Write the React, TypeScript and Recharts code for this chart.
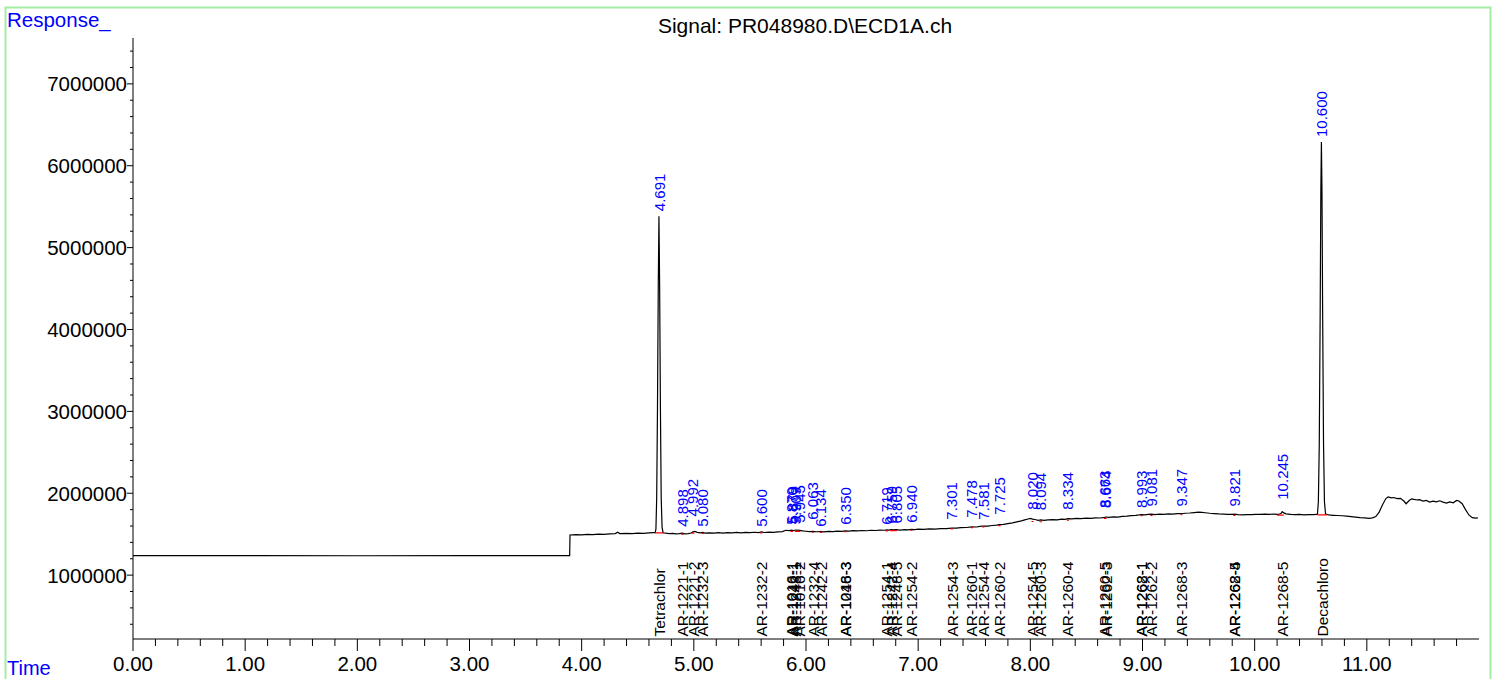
import React from 'react';
import { ComposedChart, Line, Scatter, XAxis, YAxis } from 'recharts';

const FONT = '"Liberation Sans", Arial, Helvetica, sans-serif';

const TITLE = 'Signal: PR048980.D\\ECD1A.ch';
const Y_TITLE = 'Response_';
const X_TITLE = 'Time';

// axis ranges / ticks
const X_DOMAIN: [number, number] = [0, 12];
const X_MAJOR_TICKS = [0, 1, 2, 3, 4, 5, 6, 7, 8, 9, 10, 11];
const X_MINOR_PER_MAJOR = 5;
const Y_DOMAIN: [number, number] = [220000, 7560000];
const Y_MAJOR_TICKS = [1000000, 2000000, 3000000, 4000000, 5000000, 6000000, 7000000];
const Y_MINOR_FIRST = 400000;
const Y_MINOR_LAST = 7400000;
const Y_MINOR_STEP = 200000;

// signal trace [time(min), response]
const preStep: [number, number][] = [
  [0, 1238000], [1.0, 1238000], [2.0, 1237000], [3.0, 1238000], [3.893, 1238000],
];
const earlyBaseline: [number, number][] = [
  [3.896, 1490000], [3.95, 1495000], [4.0, 1492000], [4.05, 1498000], [4.1, 1495000],
  [4.15, 1502000], [4.2, 1499000], [4.25, 1505000], [4.3, 1508000], [4.32, 1524000],
  [4.34, 1508000], [4.4, 1511000], [4.45, 1506000], [4.5, 1512000], [4.55, 1509000],
  [4.6, 1515000], [4.64, 1519000], [4.655, 1520000],
];
const tetrachlorPeak: [number, number][] = [
  [4.662, 1560000], [4.669, 1950000], [4.676, 3050000], [4.683, 4550000], [4.689, 5384000],
  [4.695, 4550000], [4.702, 3050000], [4.709, 1950000], [4.717, 1580000], [4.726, 1518000],
];
const midBaseline: [number, number][] = [
  [4.75, 1512000], [4.78, 1508000], [4.81, 1510000], [4.84, 1504000], [4.87, 1506000],
  [4.898, 1512000], [4.92, 1505000], [4.95, 1508000], [4.975, 1514000], [4.992, 1528000],
  [5.01, 1533000], [5.03, 1522000], [5.06, 1516000], [5.08, 1521000], [5.1, 1514000],
  [5.14, 1517000], [5.18, 1512000], [5.22, 1518000], [5.26, 1514000], [5.3, 1520000],
  [5.34, 1516000], [5.38, 1521000], [5.42, 1517000], [5.46, 1523000], [5.5, 1519000],
  [5.54, 1524000], [5.58, 1520000], [5.6, 1527000], [5.63, 1521000], [5.67, 1526000],
  [5.71, 1522000], [5.75, 1528000], [5.79, 1531000], [5.82, 1548000], [5.85, 1544000],
  [5.87, 1550000], [5.89, 1545000], [5.91, 1551000], [5.945, 1546000], [5.97, 1540000],
  [6.0, 1536000], [6.03, 1532000], [6.063, 1534000], [6.09, 1530000], [6.134, 1532000],
  [6.16, 1529000], [6.2, 1535000], [6.24, 1532000], [6.28, 1538000], [6.32, 1535000],
  [6.35, 1540000], [6.38, 1537000], [6.42, 1543000], [6.46, 1540000], [6.5, 1545000],
  [6.54, 1542000], [6.58, 1548000], [6.62, 1545000], [6.66, 1550000], [6.7, 1548000],
  [6.719, 1553000], [6.74, 1549000], [6.759, 1557000], [6.78, 1552000], [6.805, 1556000],
  [6.84, 1549000], [6.88, 1555000], [6.91, 1552000], [6.94, 1559000], [6.97, 1556000],
  [7.0, 1561000], [7.05, 1558000], [7.1, 1565000], [7.15, 1562000], [7.2, 1569000],
  [7.25, 1567000], [7.301, 1575000], [7.34, 1573000], [7.38, 1580000], [7.43, 1582000],
  [7.478, 1590000], [7.52, 1588000], [7.55, 1595000], [7.581, 1600000], [7.62, 1598000],
  [7.66, 1606000], [7.7, 1610000], [7.725, 1617000], [7.76, 1620000], [7.8, 1630000],
  [7.84, 1638000], [7.88, 1650000], [7.92, 1662000], [7.95, 1674000], [7.98, 1686000],
  [8.0, 1692000], [8.02, 1684000], [8.05, 1676000], [8.07, 1670000], [8.094, 1674000],
  [8.12, 1668000], [8.16, 1675000], [8.2, 1679000], [8.24, 1676000], [8.28, 1684000],
  [8.31, 1681000], [8.334, 1690000], [8.37, 1686000], [8.41, 1692000], [8.45, 1689000],
  [8.5, 1697000], [8.54, 1694000], [8.58, 1700000], [8.62, 1698000], [8.663, 1706000],
  [8.674, 1710000], [8.7, 1706000], [8.74, 1712000], [8.78, 1709000], [8.82, 1717000],
  [8.86, 1721000], [8.9, 1727000], [8.94, 1731000], [8.97, 1735000], [8.993, 1740000],
  [9.02, 1737000], [9.05, 1741000], [9.081, 1744000], [9.11, 1740000], [9.15, 1746000],
  [9.19, 1743000], [9.23, 1749000], [9.27, 1746000], [9.31, 1752000], [9.347, 1750000],
  [9.38, 1756000], [9.42, 1759000], [9.46, 1764000], [9.5, 1769000], [9.53, 1766000],
  [9.56, 1762000], [9.6, 1756000], [9.64, 1752000], [9.68, 1748000], [9.72, 1746000],
  [9.76, 1743000], [9.8, 1741000], [9.821, 1744000], [9.85, 1739000], [9.89, 1737000],
  [9.93, 1740000], [9.97, 1738000], [10.01, 1743000], [10.05, 1741000], [10.09, 1746000],
  [10.13, 1743000], [10.17, 1745000], [10.21, 1741000], [10.235, 1752000], [10.245, 1775000],
  [10.26, 1760000], [10.28, 1748000], [10.32, 1742000], [10.36, 1739000], [10.4, 1741000],
  [10.44, 1737000], [10.48, 1740000], [10.52, 1738000], [10.555, 1741000],
];
const decachloroPeak: [number, number][] = [
  [10.56, 1745000], [10.568, 1900000], [10.576, 2600000], [10.584, 4200000], [10.59, 5700000],
  [10.595, 6290000], [10.6, 5700000], [10.606, 4200000], [10.614, 2600000], [10.622, 1900000],
  [10.632, 1745000],
];
const tail: [number, number][] = [
  [10.66, 1735000], [10.7, 1731000], [10.74, 1728000], [10.78, 1725000], [10.82, 1720000],
  [10.86, 1714000], [10.9, 1709000], [10.94, 1703000], [10.98, 1699000], [11.02, 1694000],
  [11.05, 1700000], [11.08, 1715000], [11.11, 1770000], [11.14, 1860000], [11.17, 1935000],
  [11.19, 1955000], [11.22, 1944000], [11.24, 1948000], [11.27, 1934000], [11.3, 1938000],
  [11.33, 1905000], [11.35, 1872000], [11.38, 1915000], [11.4, 1932000], [11.42, 1925000],
  [11.45, 1918000], [11.47, 1922000], [11.5, 1905000], [11.53, 1912000], [11.56, 1893000],
  [11.59, 1904000], [11.62, 1895000], [11.65, 1908000], [11.68, 1892000], [11.71, 1880000],
  [11.74, 1895000], [11.77, 1883000], [11.8, 1912000], [11.82, 1906000], [11.85, 1872000],
  [11.88, 1800000], [11.91, 1735000], [11.94, 1702000], [11.97, 1696000], [11.99, 1700000],
];

// integrated peaks: retention time and level under the RT label
const peakTimes = [
  4.691, 4.898, 4.992, 5.08, 5.6, 5.87, 5.879, 5.909, 5.945, 6.063, 6.134, 6.35,
  6.719, 6.759, 6.805, 6.94, 7.301, 7.478, 7.581, 7.725, 8.02, 8.094, 8.334,
  8.663, 8.674, 8.993, 9.081, 9.347, 9.821, 10.245, 10.6,
];
const peakLabelLevels = [
  5384000, 1530000, 1656000, 1530000, 1530000, 1555000, 1570000, 1560000, 1580000, 1616000, 1530000, 1555000,
  1555000, 1570000, 1570000, 1580000, 1616000, 1640000, 1616000, 1677000, 1738000, 1730000, 1738000,
  1758000, 1758000, 1758000, 1778000, 1778000, 1778000, 1860000, 6290000,
];

// compound names [time, name]
const compoundNames: [number, string][] = [
  [4.691, 'Tetrachlor'], [4.898, 'AR-1221-1'], [4.992, 'AR-1221-2'], [5.08, 'AR-1232-3'],
  [5.6, 'AR-1232-2'], [5.87, 'AR-1016-1'], [5.879, 'AR-1242-1'], [5.909, 'AR-1248-1'],
  [5.945, 'AR-1016-2'], [6.063, 'AR-1232-4'], [6.134, 'AR-1242-2'], [6.35, 'AR-1016-3'],
  [6.35, 'AR-1248-3'], [6.719, 'AR-1254-1'], [6.759, 'AR-1242-4'], [6.805, 'AR-1248-5'],
  [6.94, 'AR-1254-2'], [7.301, 'AR-1254-3'], [7.478, 'AR-1260-1'], [7.581, 'AR-1254-4'],
  [7.725, 'AR-1260-2'], [8.02, 'AR-1254-5'], [8.094, 'AR-1260-3'], [8.334, 'AR-1260-4'],
  [8.663, 'AR-1260-5'], [8.674, 'AR-1262-3'], [8.993, 'AR-1268-1'], [8.993, 'AR-1262-1'],
  [9.081, 'AR-1262-2'], [9.347, 'AR-1268-3'], [9.821, 'AR-1262-5'], [9.821, 'AR-1268-4'],
  [10.245, 'AR-1268-5'], [10.6, 'Decachloro'],
];

// integration baselines [start, end, level]
const baselineSegments: [number, number, number][] = [
  [4.655, 4.728, 1515000], [4.885, 4.91, 1500000], [4.98, 5.005, 1512000], [5.07, 5.09, 1510000],
  [5.59, 5.61, 1516000], [5.86, 5.885, 1535000], [5.9, 5.95, 1535000], [6.055, 6.07, 1524000],
  [6.125, 6.145, 1522000], [6.34, 6.36, 1530000], [6.71, 6.73, 1541000], [6.75, 6.81, 1543000],
  [6.93, 6.95, 1548000], [7.29, 7.31, 1565000], [7.47, 7.49, 1580000], [7.57, 7.59, 1590000],
  [7.715, 7.735, 1605000], [8.01, 8.03, 1655000], [8.08, 8.105, 1652000], [8.325, 8.345, 1672000],
  [8.655, 8.68, 1694000], [8.985, 9.0, 1726000], [9.07, 9.09, 1730000], [9.34, 9.355, 1740000],
  [9.81, 9.83, 1730000], [10.2, 10.26, 1733000], [10.56, 10.645, 1736000],
];

// ---- derived tables ----
const signalData = [...preStep, ...earlyBaseline, ...tetrachlorPeak, ...midBaseline, ...decachloroPeak, ...tail].map(
  ([t, v]) => ({ t, v })
);
const redData: { t: number; v: number | null }[] = [];
baselineSegments.forEach(([t0, t1, v]) => {
  redData.push({ t: t0, v }, { t: t1, v }, { t: t1 + 0.0001, v: null });
});
const peakData = peakTimes.map((t, i) => ({ t, lv: peakLabelLevels[i], label: t.toFixed(3) }));
const nameData = compoundNames.map(([t, name]) => ({ t, base: Y_DOMAIN[0], name }));

const xTicks: number[] = [];
X_MAJOR_TICKS.forEach((m) => {
  for (let k = 0; k < X_MINOR_PER_MAJOR; k++) xTicks.push(Math.round((m + k / X_MINOR_PER_MAJOR) * 1000) / 1000);
});
const yTicks: number[] = [];
for (let v = Y_MINOR_FIRST; v <= Y_MINOR_LAST; v += Y_MINOR_STEP) yTicks.push(v);

const XTick = (props: any) => {
  const { x, y, payload } = props;
  const v = payload.value as number;
  const major = X_MAJOR_TICKS.some((m) => Math.abs(m - v) < 1e-6);
  return (
    <g>
      <line x1={x} x2={x} y1={y} y2={y + (major ? 12 : 7)} stroke="#000" strokeWidth={1} />
      {major && (
        <text x={x} y={y + 31.5} textAnchor="middle" fontSize={20.5} fontFamily={FONT} fill="#000">
          {v.toFixed(2)}
        </text>
      )}
    </g>
  );
};

const YTick = (props: any) => {
  const { x, y, payload } = props;
  const v = payload.value as number;
  const major = Y_MAJOR_TICKS.includes(v);
  return (
    <g>
      <line x1={x - (major ? 6 : 3)} x2={x} y1={y} y2={y} stroke="#000" strokeWidth={1} />
      {major && (
        <text x={x - 6} y={y} dy="0.36em" textAnchor="end" fontSize={20.5} fontFamily={FONT} fill="#000">
          {String(v)}
        </text>
      )}
    </g>
  );
};

const RtLabel = (props: any) => {
  const { cx, cy, payload } = props;
  if (cx == null || cy == null) return <g />;
  const x = cx;
  const y = cy - 5;
  return (
    <text transform={`rotate(-90 ${x} ${y})`} x={x} y={y} dy="0.36em" fontSize={15} fontFamily={FONT} fill="#0000ff">
      {payload.label}
    </text>
  );
};

const NameLabel = (props: any) => {
  const { cx, cy, payload } = props;
  if (cx == null || cy == null) return <g />;
  const x = cx;
  const y = cy - 2.5;
  return (
    <text transform={`rotate(-90 ${x} ${y})`} x={x} y={y} dy="0.36em" fontSize={15.5} fontFamily={FONT} fill="#000">
      {payload.name}
    </text>
  );
};

export default function App() {
  return (
    <div style={{ position: 'absolute', left: 0, top: 0, width: 1496, height: 679, background: '#fff', overflow: 'hidden' }}>
      <ComposedChart width={1496} height={679} margin={{ top: 38, right: 17, bottom: 0, left: 0 }}>
        <XAxis
          type="number"
          dataKey="t"
          domain={X_DOMAIN}
          ticks={xTicks}
          interval={0}
          tickSize={0}
          tickMargin={0}
          tickLine={false}
          axisLine={{ stroke: '#000', strokeWidth: 1 }}
          tick={<XTick />}
          height={40}
          allowDataOverflow
        />
        <YAxis
          type="number"
          domain={Y_DOMAIN}
          ticks={yTicks}
          interval={0}
          tickSize={0}
          tickMargin={0}
          tickLine={false}
          axisLine={{ stroke: '#000', strokeWidth: 1 }}
          tick={<YTick />}
          width={133}
          allowDataOverflow
        />
        <Line data={signalData} dataKey="v" type="linear" stroke="#000" strokeWidth={1.2} dot={false} activeDot={false} isAnimationActive={false} />
        <Line data={redData} dataKey="v" type="linear" stroke="#ff0000" strokeWidth={1.2} dot={false} activeDot={false} isAnimationActive={false} />
        <Scatter data={peakData} dataKey="lv" shape={<RtLabel />} isAnimationActive={false} />
        <Scatter data={nameData} dataKey="base" shape={<NameLabel />} isAnimationActive={false} />
      </ComposedChart>
      <svg width={1496} height={679} style={{ position: 'absolute', left: 0, top: 0, pointerEvents: 'none' }}>
        <path d="M5.5 679 V7.5 H1490.5 V679" fill="none" stroke="#a3eea3" strokeWidth={2} />
        <text x={805} y={33} textAnchor="middle" fontSize={21} fontFamily={FONT} fill="#000">
          {TITLE}
        </text>
        <text x={7} y={27} fontSize={20.5} fontFamily={FONT} fill="#0000ff">
          {Y_TITLE}
        </text>
        <text x={7} y={675} fontSize={20} fontFamily={FONT} fill="#0000ff">
          {X_TITLE}
        </text>
      </svg>
    </div>
  );
}
